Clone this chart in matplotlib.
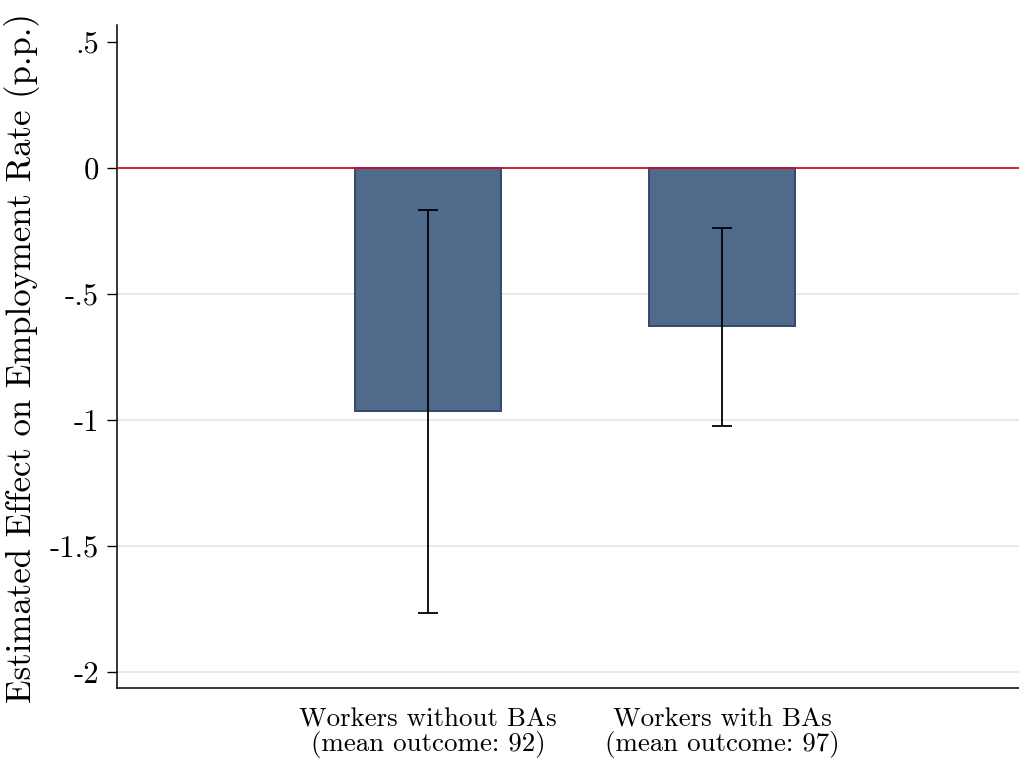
import matplotlib
matplotlib.use("Agg")
import matplotlib.pyplot as plt
import numpy as np

categories = ["Workers without BAs\n(mean outcome: 92)", "Workers with BAs\n(mean outcome: 97)"]
estimates = [-0.964, -0.627]
ci_low = [-1.766, -1.024]
ci_high = [-0.167, -0.238]
yticks = [0.5, 0, -0.5, -1, -1.5, -2]
ytick_labels = [".5", "0", "-.5", "-1", "-1.5", "-2"]
grid_vals = [-0.5, -1, -1.5, -2]

plt.rcParams['font.family'] = ['cmr10', 'DejaVu Serif']
plt.rcParams['axes.unicode_minus'] = False
plt.rcParams['mathtext.fontset'] = 'cm'

fig = plt.figure(figsize=(10.2, 7.62), dpi=100)
ax = fig.add_axes([117/1020, 1 - 688/762, (1020-117)/1020, (688-25)/762])

x = np.array([1, 2])
est = np.array(estimates)
lo = np.array(ci_low)
hi = np.array(ci_high)

for g in grid_vals:
    ax.axhline(g, color='#e6e6e6', lw=1.3, zorder=0)

ax.bar(x, est, width=0.495, color='#4f6a8a', edgecolor='#34496a', linewidth=1.4, zorder=2)
ax.errorbar(x, (lo + hi) / 2, yerr=(hi - lo) / 2, fmt='none', ecolor='black',
            elinewidth=1.3, capsize=7, capthick=1.3, zorder=3)
ax.axhline(0, color='#c8102e', lw=1.3, zorder=4)

ax.set_xlim(-0.058, 3.014)
ax.set_ylim(-2.0635, 0.567)
ax.set_yticks(yticks)
ax.set_yticklabels(ytick_labels, fontsize=22)
ax.set_xticks(x)
ax.set_xticklabels(categories, fontsize=19.4, linespacing=1.0)
ax.tick_params(axis='x', length=0, pad=14)
ax.tick_params(axis='y', length=7, width=1, pad=6)

ax.spines['top'].set_visible(False)
ax.spines['right'].set_visible(False)
ax.spines['left'].set_linewidth(1.1)
ax.spines['bottom'].set_linewidth(1.1)

ax.set_ylabel("Estimated Effect on Employment Rate (p.p.)", fontsize=25)
ax.yaxis.set_label_coords((40 - 117) / 903, 0.497)

fig.savefig("out.png", dpi=100, facecolor='white')
